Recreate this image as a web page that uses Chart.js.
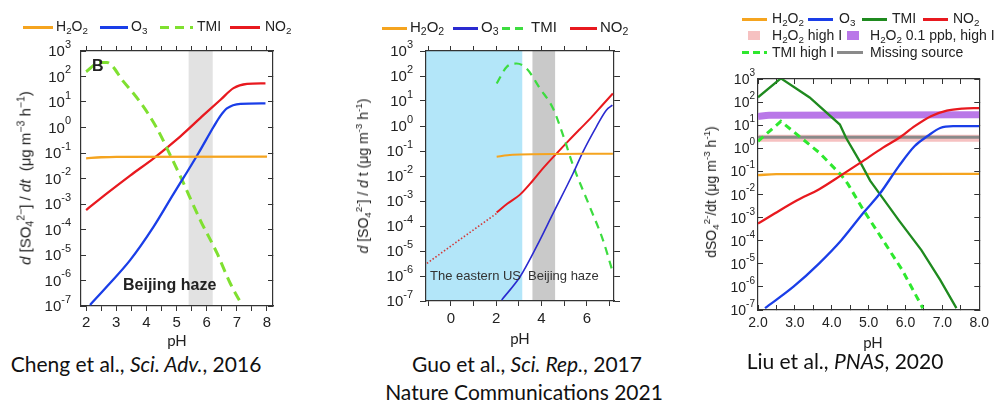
<!DOCTYPE html>
<html>
<head>
<meta charset="utf-8">
<script src="https://cdn.jsdelivr.net/npm/chart.js@4"></script>
<style>
  body{margin:0;width:999px;height:403px;position:relative;overflow:hidden;background:#fff;
       font-family:"Liberation Sans",Arial,sans-serif;color:#222}
  canvas{position:absolute;top:0}
  sub,sup{font-size:70%;line-height:0}
  sub{vertical-align:-0.3em} sup{vertical-align:0.6em}
  .sw{position:absolute;height:3px}
  .box{position:absolute;width:12px;height:9px}
  .lt{position:absolute;white-space:nowrap;line-height:16px}
  .ytitle{position:absolute;white-space:nowrap;transform:translate(-50%,-50%) rotate(-90deg)}
  .cap{position:absolute;white-space:nowrap;font-family:Lato,"Open Sans",sans-serif;font-size:21px;color:#111;transform:translateX(-50%)}
  .ph{position:absolute;font-family:Lato,"Open Sans",sans-serif;font-size:15px;color:#222;transform:translateX(-50%)}
</style>
</head>
<body>
<canvas id="cheng" width="300" height="340" style="left:0"></canvas>
<canvas id="guo" width="330" height="340" style="left:330px"></canvas>
<canvas id="liu" width="309" height="340" style="left:690px"></canvas>

<!-- panel 1 legend -->
<div style="font-size:14px">
  <div class="sw" style="left:23px;top:26px;width:30px;background:#f5a41f"></div>
  <div class="lt" style="left:56px;top:18px">H<sub>2</sub>O<sub>2</sub></div>
  <div class="sw" style="left:100px;top:26px;width:28px;background:#1a3ee8"></div>
  <div class="lt" style="left:131px;top:18px">O<sub>3</sub></div>
  <div class="sw" style="left:160px;top:26px;width:33px;background:repeating-linear-gradient(90deg,#7fe030 0 9px,transparent 9px 15px)"></div>
  <div class="lt" style="left:197px;top:18px">TMI</div>
  <div class="sw" style="left:230px;top:26px;width:30px;background:#e8191f"></div>
  <div class="lt" style="left:265px;top:18px">NO<sub>2</sub></div>
</div>
<!-- panel 2 legend -->
<div style="font-size:15px">
  <div class="sw" style="left:382px;top:27px;width:25px;background:#f5a41f"></div>
  <div class="lt" style="left:410px;top:19px">H<sub>2</sub>O<sub>2</sub></div>
  <div class="sw" style="left:453px;top:27px;width:25px;background:#2a2ad0"></div>
  <div class="lt" style="left:481px;top:19px">O<sub>3</sub></div>
  <div class="sw" style="left:502px;top:27px;width:26px;background:repeating-linear-gradient(90deg,#3ddc40 0 8px,transparent 8px 13px)"></div>
  <div class="lt" style="left:531px;top:19px">TMI</div>
  <div class="sw" style="left:570px;top:27px;width:27px;background:#e8191f"></div>
  <div class="lt" style="left:600px;top:19px">NO<sub>2</sub></div>
</div>
<!-- panel 3 legend -->
<div style="font-size:14px">
  <div class="sw" style="left:742px;top:18px;width:25px;background:#f5a41f"></div>
  <div class="lt" style="left:772px;top:10px">H<sub>2</sub>O<sub>2</sub></div>
  <div class="sw" style="left:808px;top:18px;width:25px;background:#1a3ee8"></div>
  <div class="lt" style="left:839px;top:10px">O<sub>3</sub></div>
  <div class="sw" style="left:862px;top:18px;width:25px;background:#1f8a1f"></div>
  <div class="lt" style="left:892px;top:10px">TMI</div>
  <div class="sw" style="left:923px;top:18px;width:25px;background:#e8191f"></div>
  <div class="lt" style="left:953px;top:10px">NO<sub>2</sub></div>
  <div class="box" style="left:748px;top:31px;background:#f6c1c1"></div>
  <div class="lt" style="left:772px;top:27px">H<sub>2</sub>O<sub>2</sub> high I</div>
  <div class="box" style="left:847px;top:31px;background:#b978e8"></div>
  <div class="lt" style="left:870px;top:27px">H<sub>2</sub>O<sub>2</sub> 0.1 ppb, high I</div>
  <div class="sw" style="left:742px;top:51px;width:25px;background:repeating-linear-gradient(90deg,#2ee82e 0 7px,transparent 7px 11px)"></div>
  <div class="lt" style="left:772px;top:44px">TMI high I</div>
  <div class="sw" style="left:837px;top:51px;width:26px;background:#8a8a8a"></div>
  <div class="lt" style="left:870px;top:44px">Missing source</div>
</div>

<!-- axis titles -->
<div class="ytitle" style="left:25px;top:178px;font-size:15px"><i>d</i> [SO<sub>4</sub><sup>2−</sup>] / <i>dt</i>&nbsp; (μg m<sup>−3</sup> h<sup>−1</sup>)</div>
<div class="ytitle" style="left:363px;top:176px;font-size:14px"><i>d</i> [SO<sub>4</sub><sup>2-</sup>] / <i>d</i> t (μg m<sup>-3</sup> h<sup>-1</sup>)</div>
<div class="ytitle" style="left:711px;top:192px;font-size:14px">dSO<sub>4</sub><sup>2-</sup>/dt (μg m<sup>-3</sup> h<sup>-1</sup>)</div>
<div class="ph" style="left:177px;top:331px">pH</div>
<div class="ph" style="left:520px;top:329px">pH</div>
<div class="ph" style="left:873px;top:333px">pH</div>

<!-- annotations -->
<div class="lt" style="left:92px;top:58px;font-size:16px;font-weight:bold">B</div>
<div class="lt" style="left:123px;top:277px;font-size:16px;font-weight:bold">Beijing haze</div>
<div class="lt" style="left:430px;top:268px;font-size:13px;color:#333">The eastern US</div>
<div class="lt" style="left:528px;top:268px;font-size:13px;color:#333">Beijing haze</div>

<!-- captions -->
<div class="cap" style="left:136px;top:351px">Cheng et al., <i>Sci. Adv.</i>, 2016</div>
<div class="cap" style="left:527px;top:351px">Guo et al., <i>Sci. Rep.</i>, 2017</div>
<div class="cap" style="left:524px;top:379px">Nature Communications 2021</div>
<div class="cap" style="left:845px;top:348px">Liu et al., <i>PNAS</i>, 2020</div>

<script>
// ---- shared ----
const decades = [1e-7, 1e-6, 1e-5, 1e-4, 1e-3, 1e-2, 1e-1, 1, 1e1, 1e2, 1e3];

// ---- Cheng et al., Sci. Adv., 2016 ----
const chengXTicks = [2, 2.5, 3, 3.5, 4, 4.5, 5, 5.5, 6, 6.5, 7, 7.5, 8];
const chengHaze = [5.4, 6.2];
const chengH2O2pH = [2, 2.5, 3, 8];
const chengH2O2 = [0.062, 0.068, 0.071, 0.072];
const chengNO2pH = [2, 2.69, 3.46, 4.24, 5.12, 5.9, 6.45, 6.89, 7.34, 7.95];
const chengNO2 = [5.8e-4, 2.6e-3, 1.3e-2, 6.2e-2, 0.44, 3.1, 12, 35, 51, 54];
const chengO3pH = [2.13, 2.69, 3.46, 4.24, 4.9, 5.35, 5.73, 6.23, 6.45, 6.67, 7.12, 7.95];
const chengO3 = [1.1e-7, 5.8e-7, 6.3e-6, 1.3e-4, 2.5e-3, 1.8e-2, 0.1, 1.07, 2.8, 5.6, 8.5, 8.9];
const chengTMIpH = [2.0, 2.45, 2.69, 3.24, 3.79, 4.35, 4.79, 5.12, 5.79, 6.34, 6.78, 7.17];
const chengTMI = [155, 355, 355, 63, 10, 0.93, 0.083, 1.26e-2, 2.3e-4, 1.2e-5, 7.8e-7, 1.1e-7];

// ---- Guo et al., Sci. Rep., 2017 ----
const guoXTicks = [-1, 0, 1, 2, 3, 4, 5, 6, 7];
const guoUS = [-1.1, 3.15];
const guoHaze = [3.6, 4.6];
const guoH2O2pH = [2.02, 2.5, 3.05, 7.15];
const guoH2O2 = [0.059, 0.068, 0.072, 0.078];
const guoNO2lowpH = [-1.06, 0.55, 2.02];
const guoNO2low = [3.2e-6, 3.6e-5, 3.2e-4];
const guoNO2pH = [2.02, 2.5, 3.05, 3.6, 4.1, 4.66, 5.2, 5.7, 6.2, 6.7, 7.15];
const guoNO2 = [3.5e-4, 7.9e-4, 1.8e-3, 6.3e-3, 2.2e-2, 7.9e-2, 0.26, 0.76, 2.2, 7.1, 20];
const guoO3pH = [2.24, 3.05, 3.78, 4.51, 5.39, 5.83, 6.42, 6.86, 7.13];
const guoO3 = [1.1e-7, 9.3e-7, 1.5e-5, 3.2e-4, 1.26e-2, 9.3e-2, 0.93, 4.3, 6.8];
const guoTMIpH = [2.02, 2.46, 2.9, 3.34, 3.93, 4.51, 4.95, 5.39, 6.13, 6.71, 7.13];
const guoTMI = [50, 230, 316, 200, 32, 5, 0.43, 2.7e-2, 5.9e-4, 2.8e-5, 1.6e-6];

// ---- Liu et al., PNAS, 2020 ----
const liuXTicks = [2, 2.5, 3, 3.5, 4, 4.5, 5, 5.5, 6, 6.5, 7, 7.5, 8];
const liuH2O2pH = [2, 2.5, 8];
const liuH2O2 = [0.069, 0.076, 0.078];
const liuO3pH = [2.19, 2.97, 3.66, 4.26, 4.87, 5.3, 5.82, 6.25, 6.6, 6.94, 7.29, 8];
const liuO3 = [1.2e-7, 1.05e-6, 1.05e-5, 1.05e-4, 1.7e-3, 1.07e-2, 0.17, 1.26, 3.4, 7.6, 9.1, 9.1];
const liuNO2pH = [2, 2.45, 3.05, 3.66, 4.26, 4.78, 5.39, 5.82, 6.25, 6.69, 7.12, 7.55, 8];
const liuNO2 = [5.5e-4, 1.5e-3, 5.5e-3, 1.7e-2, 6.9e-2, 0.24, 1.07, 2.8, 9.1, 24.5, 42.7, 52.5, 55];
const liuTMIpH = [2, 2.62, 3.4, 4.22, 4.39, 4.78, 5.04, 5.3, 5.82, 6.43, 6.94, 7.38];
const liuTMI = [162, 1070, 158, 10.7, 2.8, 0.24, 0.04, 1.07e-2, 7.6e-4, 3.9e-5, 2e-6, 1.2e-7];
const liuTMIhighpH = [2, 2.62, 3.66, 4.26, 4.44, 4.87, 5.39, 5.91, 6.47];
const liuTMIhigh = [2.0, 14.8, 0.65, 6.8e-2, 2.8e-2, 2e-3, 1.05e-4, 5.4e-6, 1.2e-7];
const liuH2O2highpH = [2, 8];
const liuH2O2high = [2.7, 2.7];
const liuH2O2lowppbpH = [2, 2.3, 8];
const liuH2O2lowppb = [24, 27, 28];
const liuMissingpH = [2, 8];
const liuMissing = [3.0, 3.0];

// ---- helpers ----
function pts(xs, ys){ return xs.map((x, i) => ({x: x, y: ys[i]})); }
function line(xs, ys, color, extra){
  return Object.assign({data: pts(xs, ys), borderColor: color, borderWidth: 2.3, pointRadius: 0,
    fill: false, cubicInterpolationMode: 'monotone'}, extra || {});
}

// "10" with a raised exponent for each decade tick
const decadeLabels = {
  id: 'decadeLabels',
  afterDraw(chart, args, o){
    const s = chart.scales.y, ctx = chart.ctx;
    ctx.save();
    ctx.fillStyle = '#222';
    ctx.textAlign = 'right';
    ctx.textBaseline = 'alphabetic';
    s.ticks.forEach(t => {
      const y = s.getPixelForValue(t.value);
      const exp = String(Math.round(Math.log10(t.value)));
      const xr = s.right - o.gap;
      ctx.font = o.small + 'px "Liberation Sans", Arial';
      const ew = ctx.measureText(exp).width;
      ctx.fillText(exp, xr, y - o.big * 0.22);
      ctx.font = o.big + 'px "Liberation Sans", Arial';
      ctx.fillText('10', xr - ew, y + o.big * 0.36);
    });
    ctx.restore();
  }
};

// shaded pH ranges
const bands = {
  id: 'bands',
  beforeDraw(chart, args, o){
    const {ctx, chartArea: a, scales: {x}} = chart;
    (o.list || []).forEach(b => {
      const x0 = Math.max(x.getPixelForValue(b.range[0]), a.left);
      const x1 = Math.min(x.getPixelForValue(b.range[1]), a.right);
      ctx.fillStyle = b.color;
      ctx.fillRect(x0, a.top, x1 - x0, a.bottom - a.top);
    });
  }
};

function axes(box, o){
  const xTicks = s => { s.ticks = o.xticks.map(v => ({value: v})); };
  const yTicks = s => { s.ticks = decades.map(v => ({value: v})); };
  const grid = tl => ({drawOnChartArea: false, color: '#333', tickLength: tl, tickWidth: 1});
  const border = {color: '#333', width: 1.2};
  return {
    x: {type: 'linear', position: 'bottom', min: o.xmin, max: o.xmax,
        afterBuildTicks: xTicks, afterFit: s => { s.height = box.h - box.b; },
        grid: grid(o.tlx), border: border,
        ticks: {autoSkip: false, maxRotation: 0, padding: o.xpad, color: '#222',
                font: {family: '"Liberation Sans", Arial', size: o.xfont}, callback: o.xlabel}},
    x2: {type: 'linear', position: 'top', min: o.xmin, max: o.xmax,
        afterBuildTicks: xTicks, afterFit: s => { s.height = box.t; },
        grid: grid(o.tlx2), border: border, ticks: {display: false}},
    y: {type: 'logarithmic', position: 'left', min: 1e-7, max: 1e3,
        afterBuildTicks: yTicks, afterFit: s => { s.width = box.l; },
        grid: grid(o.tly), border: border, ticks: {display: false}},
    y2: {type: 'logarithmic', position: 'right', min: 1e-7, max: 1e3,
        afterBuildTicks: yTicks, afterFit: s => { s.width = box.w - box.r; },
        grid: grid(o.tly), border: border, ticks: {display: false}}
  };
}

function make(id, box, datasets, o){
  return new Chart(document.getElementById(id), {
    type: 'line',
    data: {datasets: datasets},
    options: {
      responsive: false, animation: false, devicePixelRatio: 1,
      layout: {padding: 0},
      plugins: {legend: {display: false}, tooltip: {enabled: false},
                bands: {list: o.bands || []},
                decadeLabels: {gap: o.ygap, big: o.ybig, small: o.ysmall}},
      scales: axes(box, o)
    },
    plugins: [bands, decadeLabels]
  });
}

// ---- panel 1 ----
make('cheng', {w: 300, h: 340, l: 81, r: 273, t: 51, b: 306}, [
  line(chengH2O2pH, chengH2O2, '#f5a41f'),
  line(chengO3pH, chengO3, '#1a3ee8'),
  line(chengTMIpH, chengTMI, '#7fe030', {borderWidth: 3, borderDash: [10, 6]}),
  line(chengNO2pH, chengNO2, '#e8191f')
], {xmin: 1.83, xmax: 8.2, xticks: chengXTicks, tlx: 5, tlx2: 5, tly: -5, xpad: 3, xfont: 15,
    xlabel: v => Number.isInteger(v) ? String(v) : '',
    ygap: 10, ybig: 15, ysmall: 11,
    bands: [{range: chengHaze, color: '#e2e2e2'}]});

// ---- panel 2 ----
make('guo', {w: 330, h: 340, l: 96, r: 284, t: 51, b: 301}, [
  line(guoH2O2pH, guoH2O2, '#f5a41f', {borderWidth: 2}),
  line(guoO3pH, guoO3, '#2a2ad0', {borderWidth: 1.6}),
  line(guoTMIpH, guoTMI, '#3ddc40', {borderWidth: 2.2, borderDash: [8, 6]}),
  line(guoNO2lowpH, guoNO2low, '#d23a3a', {borderWidth: 1.6, borderDash: [1.5, 2]}),
  line(guoNO2pH, guoNO2, '#e8191f', {borderWidth: 2})
], {xmin: -1.1, xmax: 7.2, xticks: guoXTicks, tlx: 5, tlx2: 5, tly: 6, xpad: 4, xfont: 15,
    xlabel: v => (v % 2 === 0) ? String(v) : '',
    ygap: 13, ybig: 15, ysmall: 11,
    bands: [{range: guoUS, color: '#b3e6f9'}, {range: guoHaze, color: '#c9c9c9'}]});

// ---- panel 3 ----
make('liu', {w: 309, h: 340, l: 68, r: 299, t: 79, b: 310}, [
  line(liuH2O2highpH, liuH2O2high, '#f6c1c1', {borderWidth: 7, order: 9}),
  line(liuH2O2lowppbpH, liuH2O2lowppb, '#b978e8', {borderWidth: 7, order: 8}),
  line(liuMissingpH, liuMissing, '#8a8a8a', {borderWidth: 3, order: 7}),
  line(liuH2O2pH, liuH2O2, '#f5a41f', {order: 6}),
  line(liuTMIhighpH, liuTMIhigh, '#2ee82e', {borderWidth: 3, borderDash: [7, 5], cubicInterpolationMode: 'default', tension: 0, order: 5}),
  line(liuTMIpH, liuTMI, '#1f8a1f', {cubicInterpolationMode: 'default', tension: 0, order: 4}),
  line(liuO3pH, liuO3, '#1a3ee8', {order: 3}),
  line(liuNO2pH, liuNO2, '#e8191f', {order: 2})
], {xmin: 2, xmax: 8, xticks: liuXTicks, tlx: -5, tlx2: -5, tly: -5, xpad: 10, xfont: 14,
    xlabel: v => Number.isInteger(v) ? v.toFixed(1) : '',
    ygap: 3, ybig: 14, ysmall: 10});
</script>
</body>
</html>
